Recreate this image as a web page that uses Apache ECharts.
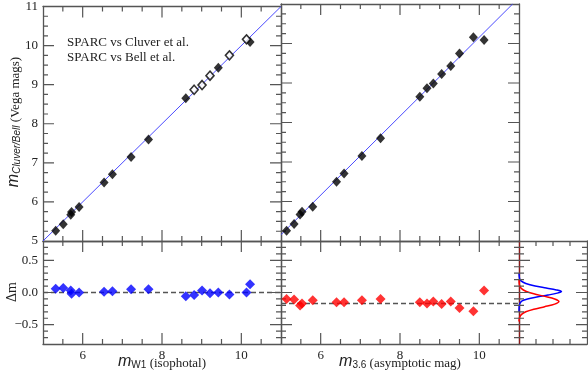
<!DOCTYPE html>
<html>
<head>
<meta charset="utf-8">
<script src="https://cdn.jsdelivr.net/npm/echarts@6/dist/echarts.min.js"></script>
<style>
  html, body { margin: 0; padding: 0; background: #fff; }
  #main { width: 588px; height: 375px; }
</style>
</head>
<body>
<div id="main"></div>
<script type="text/javascript">
// SPARC magnitudes vs Cluver / Bell
var mW1   = [5.32, 5.51, 5.70, 5.72, 5.91, 6.54, 6.75, 7.22, 7.66, 8.60, 8.81, 9.01, 9.21, 9.42, 9.70, 10.13, 10.22];
var m36   = [5.14, 5.33, 5.48, 5.53, 5.80, 6.40, 6.59, 7.04, 7.51, 8.50, 8.68, 8.84, 9.05, 9.28, 9.50, 9.85, 10.12];
var mRef  = [5.26, 5.43, 5.67, 5.74, 5.87, 6.50, 6.71, 7.15, 7.60, 8.65, 8.87, 8.99, 9.23, 9.43, 9.75, 10.16, 10.09];
// C = Cluver et al. (filled), B = Bell et al. (open)
var refSrc = ['C', 'C', 'C', 'C', 'C', 'C', 'C', 'C', 'C', 'C', 'B', 'B', 'B', 'C', 'B', 'B', 'C'];
var dW1   = [0.06, 0.07, 0.03, -0.02, 0.00, 0.01, 0.02, 0.05, 0.05, -0.06, -0.04, 0.03, -0.01, 0.00, -0.03, 0.00, 0.13];
var d36   = [-0.10, -0.11, -0.20, -0.17, -0.12, -0.15, -0.15, -0.12, -0.10, -0.15, -0.17, -0.14, -0.18, -0.14, -0.24, -0.29, 0.03];

// one-to-one / offset lines and mean offsets
var lineLeftX = [5, 11],     lineLeftY = [5, 11];
var lineRightX = [5, 10.84], lineRightY = [5.16, 11];
var meanW1 = 0.0, mean36 = -0.17;

// residual distributions (density, delta m) for the side panel
var blueCurve = [[0, 0.30], [0.03, 0.22], [0.12, 0.18], [0.4, 0.14], [0.95, 0.10], [1.6, 0.07], [2.2, 0.04], [2.5, 0.015],
                 [2.25, -0.01], [1.7, -0.04], [1.05, -0.07], [0.5, -0.10], [0.18, -0.13], [0.05, -0.17], [0.01, -0.22], [0, -0.30]];
var redCurve  = [[0, 0.20], [0.03, 0.11], [0.15, 0.06], [0.4, 0.02], [0.87, -0.02], [1.51, -0.06], [2.1, -0.10], [2.35, -0.14],
                 [2.1, -0.18], [1.51, -0.22], [0.87, -0.26], [0.4, -0.30], [0.15, -0.34], [0.03, -0.39], [0, -0.45]];

// tick label slots (evenly spaced categories spanning each axis) and labelled values
var xSlots = [5, 5.5, 6, 6.5, 7, 7.5, 8, 8.5, 9, 9.5, 10, 10.5, 11];
var xLabels = [6, 8, 10];
var ySlots = [5, 6, 7, 8, 9, 10, 11];
var yLabels = [5, 6, 7, 8, 9, 10, 11];
var dSlots = [-0.8, -0.7, -0.6, -0.5, -0.4, -0.3, -0.2, -0.1, 0, 0.1, 0.2, 0.3, 0.4, 0.5, 0.6, 0.7, 0.8];
var dLabels = [-0.5, 0, 0.5];
var hSlots = [0, 1, 2, 3, 4];

// tick marks: long (major) and short (minor)
var xMajor = [6, 8, 10];
var xMinor = [5.5, 6.5, 7, 7.5, 8.5, 9, 9.5, 10.5];
var yMajor = [6, 7, 8, 9, 10];
var yMinor = [5.25, 5.5, 5.75, 6.25, 6.5, 6.75, 7.25, 7.5, 7.75, 8.25, 8.5, 8.75,
              9.25, 9.5, 9.75, 10.25, 10.5, 10.75];
var dMajor = [-0.5, 0, 0.5];
var dMinor = [-0.7, -0.6, -0.4, -0.3, -0.2, -0.1, 0.1, 0.2, 0.3, 0.4, 0.6, 0.7];
var hMinor = [1, 2, 3];

var serif = '"Liberation Serif", "DejaVu Serif", serif';
var frame = '#555';

var xAxes = [], yAxes = [], series = [];

function fmtInt(v) { return String(Number(v)); }
function fmtDm(v) {
  v = Number(v);
  if (Math.abs(v) < 1e-9) return '0.0';
  return (v < 0 ? '\u2212' : '') + Math.abs(v).toFixed(1);
}
function isIn(list, v) {
  v = Number(v);
  for (var i = 0; i < list.length; i++) if (Math.abs(list[i] - v) < 1e-9) return true;
  return false;
}

// hidden value axis that the series are drawn on
function dataAxis(g, range) {
  return {
    type: 'value', gridIndex: g, min: range[0], max: range[1],
    axisLine: { show: false }, axisTick: { show: false }, axisLabel: { show: false }, splitLine: { show: false }
  };
}

// frame side with optional labels
function frameAxis(g, pos, slots, labels, fmt, lineColor) {
  var label = { show: false };
  if (fmt) {
    label = { show: true, interval: function (i, v) { return isIn(labels, v); }, formatter: fmt,
              fontFamily: serif, fontSize: 13, color: '#222', margin: 5 };
  }
  return {
    type: 'category', gridIndex: g, position: pos, data: slots, boundaryGap: false,
    axisLine: { show: true, onZero: false, lineStyle: { color: lineColor || frame, width: 1.3 } },
    axisTick: { show: false },
    axisLabel: label,
    splitLine: { show: false }
  };
}

// one short inward segment per tick, drawn in data units on the panel's value axes
function tickLine(ax, a, b) {
  return {
    type: 'line', xAxisIndex: ax.x, yAxisIndex: ax.y, data: [a, b],
    symbol: 'none', silent: true, z: 4, animation: false,
    lineStyle: { color: frame, width: 1.2 }
  };
}

function addTicks(ax, s, grid) {
  var dy = (s.y[1] - s.y[0]) / grid.height;   // data units per pixel, vertical
  var dx = (s.x[1] - s.x[0]) / grid.width;    // data units per pixel, horizontal
  function xt(list, len) {
    list.forEach(function (v) {
      series.push(tickLine(ax, [v, s.y[0]], [v, s.y[0] + len * dy]));
      series.push(tickLine(ax, [v, s.y[1]], [v, s.y[1] - len * dy]));
    });
  }
  function yt(list, len) {
    list.forEach(function (v) {
      series.push(tickLine(ax, [s.x[0], v], [s.x[0] + len * dx, v]));
      series.push(tickLine(ax, [s.x[1], v], [s.x[1] - len * dx, v]));
    });
  }
  xt(s.xMajor, 11); xt(s.xMinor, 5);
  yt(s.yMajor, 11); yt(s.yMinor, 5);
}

var grids = [
  { left: 43,  top: 4,   width: 238, height: 237 },
  { left: 281, top: 4,   width: 238, height: 237 },
  { left: 43,  top: 241, width: 238, height: 103 },
  { left: 281, top: 241, width: 238, height: 103 },
  { left: 519, top: 241, width: 68,  height: 103 }
];

function addPanel(g, s) {
  var ax = { x: xAxes.length, y: yAxes.length };
  xAxes.push(dataAxis(g, s.x));
  yAxes.push(dataAxis(g, s.y));
  xAxes.push(frameAxis(g, 'bottom', s.xSlots, s.xLabels, s.xFmt));
  xAxes.push(frameAxis(g, 'top', s.xSlots, s.xLabels, null));
  yAxes.push(frameAxis(g, 'left', s.ySlots, s.yLabels, s.yFmt, s.leftColor));
  yAxes.push(frameAxis(g, 'right', s.ySlots, s.yLabels, null));
  addTicks(ax, s, grids[g]);
  return ax;
}

var topX = { x: [5, 11], xSlots: xSlots, xLabels: xLabels, xMajor: xMajor, xMinor: xMinor };
var aTL = addPanel(0, Object.assign({}, topX, { xFmt: null,
  y: [5, 11], ySlots: ySlots, yLabels: yLabels, yFmt: fmtInt, yMajor: yMajor, yMinor: yMinor }));
var aTR = addPanel(1, Object.assign({}, topX, { xFmt: null,
  y: [5, 11], ySlots: ySlots, yLabels: yLabels, yFmt: null, yMajor: yMajor, yMinor: yMinor }));
var aBL = addPanel(2, Object.assign({}, topX, { xFmt: fmtInt,
  y: [-0.8, 0.8], ySlots: dSlots, yLabels: dLabels, yFmt: fmtDm, yMajor: dMajor, yMinor: dMinor }));
var aBR = addPanel(3, Object.assign({}, topX, { xFmt: fmtInt,
  y: [-0.8, 0.8], ySlots: dSlots, yLabels: dLabels, yFmt: null, yMajor: dMajor, yMinor: dMinor }));
var aH  = addPanel(4, { x: [0, 4], xSlots: hSlots, xLabels: hMinor, xFmt: null, xMajor: [], xMinor: hMinor,
  y: [-0.8, 0.8], ySlots: dSlots, yLabels: dLabels, yFmt: null, yMajor: dMajor, yMinor: dMinor, leftColor: '#8b1a1a' });

function pairs(xs, ys, keep) {
  var out = [];
  for (var i = 0; i < xs.length; i++) {
    if (!keep || keep(i)) out.push([xs[i], ys[i]]);
  }
  return out;
}
function constLine(x0, x1, y) { return [[x0, y], [x1, y]]; }

function scatter(ax, data, opts) {
  return Object.assign({
    type: 'scatter', xAxisIndex: ax.x, yAxisIndex: ax.y, data: data,
    symbol: 'diamond', symbolSize: [9, 10], silent: true, z: 5,
    itemStyle: { color: '#000' }
  }, opts || {});
}
function line(ax, data, color, dashed, width) {
  return {
    type: 'line', xAxisIndex: ax.x, yAxisIndex: ax.y, data: data,
    symbol: 'none', silent: true, z: 3,
    lineStyle: { color: color, width: width || 1, type: dashed ? [5, 3] : 'solid' }
  };
}

series.push(
  line(aTL, pairs(lineLeftX, lineLeftY), '#4a4aff', false, 1),
  scatter(aTL, pairs(mW1, mRef, function (i) { return refSrc[i] === 'C'; })),
  scatter(aTL, pairs(mW1, mRef, function (i) { return refSrc[i] === 'B'; }),
          { symbolSize: [8, 9], itemStyle: { color: '#fff', borderColor: '#000', borderWidth: 1.6 } }),
  line(aTR, pairs(lineRightX, lineRightY), '#4a4aff', false, 1),
  scatter(aTR, pairs(m36, mRef)),
  line(aBL, constLine(5, 11, meanW1), '#555', true, 1.5),
  scatter(aBL, pairs(mW1, dW1), { symbolSize: [10, 10], itemStyle: { color: '#0000ff' } }),
  line(aBR, constLine(5, 11, mean36), '#555', true, 1.5),
  scatter(aBR, pairs(m36, d36), { symbolSize: [10, 10], itemStyle: { color: '#ff0000' } }),
  Object.assign(line(aH, blueCurve, '#0000ff', false, 1.5), { smooth: 0.3 }),
  Object.assign(line(aH, redCurve, '#ff0000', false, 1.5), { smooth: 0.3 })
);

var mathRich = {
  m:  { fontFamily: '"Liberation Sans", sans-serif', fontStyle: 'italic', fontSize: 16, fill: '#222', verticalAlign: 'bottom', lineHeight: 18 },
  s:  { fontFamily: '"Liberation Sans", sans-serif', fontStyle: 'italic', fontSize: 10, fill: '#222', verticalAlign: 'bottom', lineHeight: 14 },
  sn: { fontFamily: '"Liberation Sans", sans-serif', fontSize: 10, fill: '#222', verticalAlign: 'bottom', lineHeight: 14 },
  t:  { fontFamily: serif, fontSize: 13, fill: '#222', verticalAlign: 'bottom', lineHeight: 16 }
};

var option = {
  animation: false,
  backgroundColor: '#fff',
  grid: grids,
  xAxis: xAxes,
  yAxis: yAxes,
  series: series,
  graphic: [
    { type: 'text', x: 67, y: 43, style: { text: 'SPARC vs Cluver et al.', font: '13px ' + serif, fill: '#222', verticalAlign: 'middle' } },
    { type: 'text', x: 67, y: 58, style: { text: 'SPARC vs Bell et al.', font: '13px ' + serif, fill: '#222', verticalAlign: 'middle' } },
    { type: 'text', x: 162, y: 361, style: { text: '{m|m}{sn|W1} {t|(isophotal)}', rich: mathRich, align: 'center', verticalAlign: 'middle' } },
    { type: 'text', x: 400, y: 361, style: { text: '{m|m}{sn|3.6} {t|(asymptotic mag)}', rich: mathRich, align: 'center', verticalAlign: 'middle' } },
    { type: 'text', x: 13, y: 122, rotation: Math.PI / 2,
      style: { text: '{m|m}{s|Cluver/Bell} {t|(Vega mags)}', rich: mathRich, align: 'center', verticalAlign: 'middle' } },
    { type: 'text', x: 12, y: 292, rotation: Math.PI / 2,
      style: { text: '\u0394m', font: '14px ' + serif, fill: '#222', align: 'center', verticalAlign: 'middle' } }
  ]
};

var myChart = echarts.init(document.getElementById('main'));
myChart.setOption(option);
</script>
</body>
</html>
